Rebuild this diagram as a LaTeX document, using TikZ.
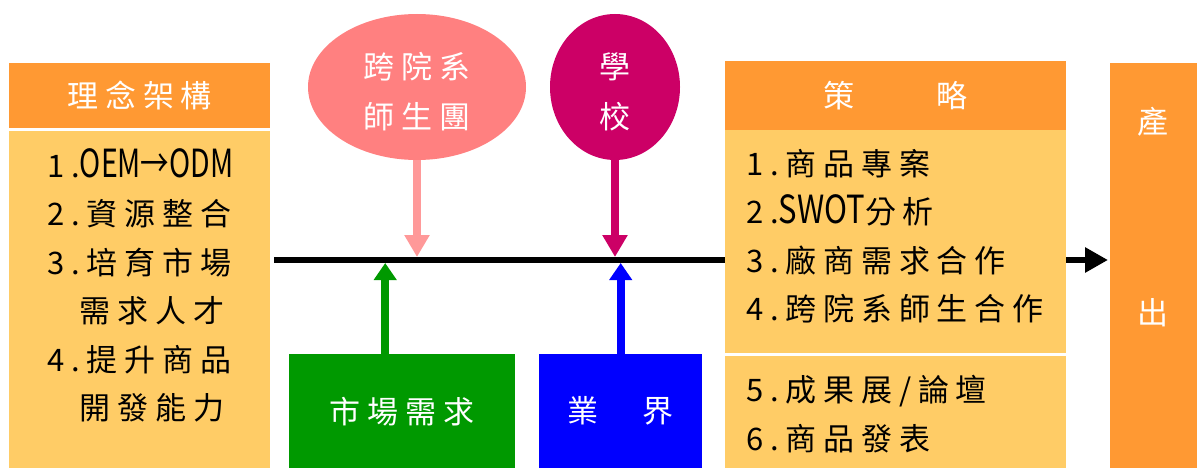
\documentclass[tikz,border=0pt]{standalone}
\usepackage{fontspec}
\newfontfamily\cjk[LetterSpace=22]{Noto Sans CJK TC}
\newfontfamily\latinfont{Noto Sans CJK TC}
\newcommand{\tallLatin}[2][0.92]{{\latinfont\scalebox{#1}[1.25]{#2}}}
\usetikzlibrary{shapes.geometric}
\usetikzlibrary{positioning}
\usetikzlibrary{arrows.meta}

\definecolor{hdrorange}{HTML}{FF9933}
\definecolor{bodyorange}{HTML}{FFCC66}
\definecolor{teampink}{HTML}{FF8080}
\definecolor{teamarrow}{HTML}{FF9999}
\definecolor{schoolred}{HTML}{CC0066}
\definecolor{mktgreen}{HTML}{009900}
\definecolor{indblue}{HTML}{0000FF}

\begin{document}
\begin{tikzpicture}[x=1pt,y=-1pt,
	every node/.style={font=\cjk\fontsize{31}{48.5}\selectfont,inner sep=0pt},
	hdr box/.style={rectangle,fill=hdrorange,text=white,anchor=north west},
	body box/.style={rectangle,fill=bodyorange,anchor=north west},
	list text/.style={align=left,anchor=north west},
	oval/.style={ellipse},
	oval text/.style={text=white,align=center,font=\cjk\fontsize{31}{50}\selectfont},
	low box/.style={rectangle,text=white,anchor=north west},
	up arrow/.style={line width=8pt,-{Triangle[length=17pt,width=22pt]}},
	down arrow/.style={line width=8pt,-{Triangle[length=22pt,width=24pt]}}]

	\useasboundingbox (0,0) rectangle (1197,468);

	% main line, runs behind the strategy box
	\coordinate (lstart) at (274,260);
	\coordinate (lend) at (1108,260);
	\coordinate (topline) at (0,257);
	\coordinate (botline) at (0,263);
	\draw[line width=6pt,-{Triangle[length=23pt,width=24pt]}] (lstart) -- (lend);

	% left column
	\node[hdr box,minimum width=261pt,minimum height=65pt] (idea) at (9,63) {理念架構};
	\node[body box,minimum width=261pt,minimum height=337pt] (ideabody) at (9,131) {};
	\node[list text] (idealist) at (47,148) {1.\tallLatin{OEM→ODM}\\2.資源整合\\3.培育市場\\\phantom{3.}需求人才\\4.提升商品\\\phantom{4.}開發能力};

	% top ovals
	\node[oval,fill=teampink,minimum width=218pt,minimum height=146pt] (team) at (417,87) {};
	\node[oval text] (teamtext) at ([yshift=-5pt]team.center) {跨院系\\師生團};
	\node[oval,fill=schoolred,minimum width=130pt,minimum height=146pt] (school) at (615,87) {};
	\node[oval text] (schooltext) at ([yshift=-5pt]school.center) {學\\校};

	% bottom boxes
	\node[low box,fill=mktgreen,minimum width=226pt,minimum height=114pt] (market) at (289,354) {市場需求};
	\node[low box,fill=indblue,minimum width=163pt,minimum height=114pt] (industry) at (539,354) {業　界};

	% strategy column
	\node[hdr box,minimum width=341pt,minimum height=69pt] (plan) at (725,61) {策　　略};
	\node[body box,minimum width=341pt,minimum height=223pt] (planbody) at (725,130) {};
	\node[body box,minimum width=341pt,minimum height=112pt] (planmore) at (725,356) {};
	\node[list text] (planlist) at (746,149) {1.商品專案\\2.\tallLatin[1]{SWOT}分析\\3.廠商需求合作\\4.跨院系師生合作};
	\node[list text] (morelist) at (746,375) {5.成果展/論壇\\6.商品發表};

	% output column
	\node[hdr box,minimum width=87pt,minimum height=405pt] (output) at (1110,63) {};
	\node[text=white] (outtop) at (1153,122) {產};
	\node[text=white] (outbot) at (1153,313) {出};

	% arrows onto the line
	\draw[down arrow,teamarrow] (team.south) -- (team.south |- topline);
	\draw[down arrow,schoolred] (school.south) -- (school.south |- topline);
	\draw[up arrow,mktgreen] ([xshift=-17pt]market.north) -- ([xshift=-17pt]market.north |- botline);
	\draw[up arrow,indblue] (industry.north) -- (industry.north |- botline);
\end{tikzpicture}
\end{document}
